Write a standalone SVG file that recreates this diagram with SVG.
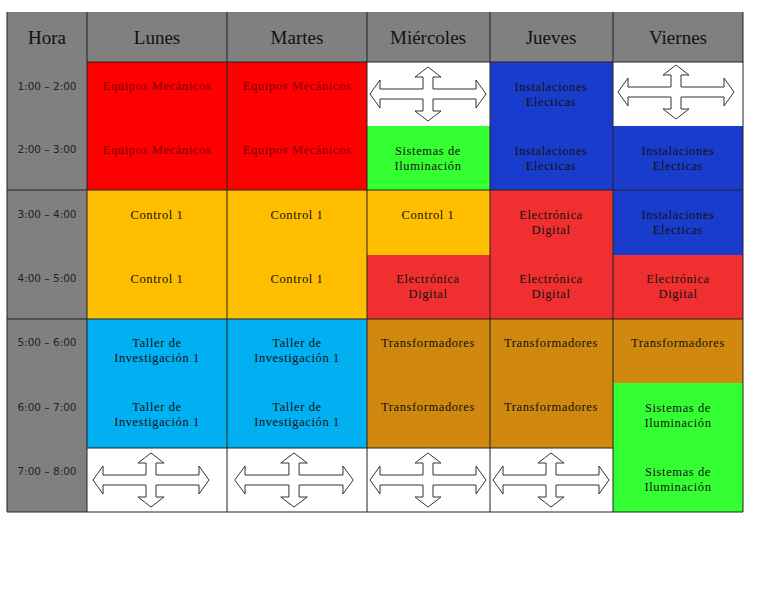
<svg xmlns="http://www.w3.org/2000/svg" width="768" height="594" viewBox="0 0 768 594">
<style>
.h{font-family:"Liberation Serif",serif;font-size:19px;fill:#111;text-anchor:middle}
.t{font-family:"DejaVu Sans",sans-serif;font-size:10.5px;fill:#222;text-anchor:middle}
.c{font-family:"Liberation Serif",serif;font-size:12.5px;fill:#111;text-anchor:middle;letter-spacing:0.6px}
.r{fill:#7a0000}
.ln{stroke:#222;stroke-width:1;fill:none}
.ar{fill:#fff;stroke:#333;stroke-width:1;vector-effect:non-scaling-stroke}
</style>
<defs>
<path id="arr" class="ar" d="M0,-27 L13,-17 L5,-17 L5,-5 L48,-5 L48,-14 L58,0 L48,14 L48,5 L5,5 L5,17 L13,17 L0,27 L-13,17 L-5,17 L-5,5 L-48,5 L-48,14 L-58,0 L-48,-14 L-48,-5 L-5,-5 L-5,-17 L-13,-17 Z"/>
</defs>
<rect width="768" height="594" fill="#fff"/>
<g id="header">
<rect x="7" y="12" width="736" height="50" fill="#808080"/>
<rect x="7" y="62" width="80" height="450" fill="#808080"/>
<text class="h" x="47" y="44">Hora</text>
<text class="h" x="157" y="44">Lunes</text>
<text class="h" x="297" y="44">Martes</text>
<text class="h" x="428" y="44">Miércoles</text>
<text class="h" x="551" y="44">Jueves</text>
<text class="h" x="678" y="44">Viernes</text>
<text class="t" x="47" y="90">1:00 – 2:00</text>
<text class="t" x="47" y="153">2:00 – 3:00</text>
<text class="t" x="47" y="218">3:00 – 4:00</text>
<text class="t" x="47" y="282">4:00 – 5:00</text>
<text class="t" x="47" y="346">5:00 – 6:00</text>
<text class="t" x="47" y="411">6:00 – 7:00</text>
<text class="t" x="47" y="475">7:00 – 8:00</text>
</g>
<g id="lunes">
<rect x="87" y="62" width="140" height="128" fill="#ff0000"/>
<text class="c r" x="157" y="90">Equipos Mecánicos</text>
<text class="c r" x="157" y="154">Equipos Mecánicos</text>
<rect x="87" y="190" width="140" height="129" fill="#ffbf00"/>
<text class="c" x="157" y="219">Control 1</text>
<text class="c" x="157" y="283">Control 1</text>
<rect x="87" y="319" width="140" height="129" fill="#00b0f0"/>
<text class="c" x="157" y="347">Taller de</text><text class="c" x="157" y="362">Investigación 1</text>
<text class="c" x="157" y="411">Taller de</text><text class="c" x="157" y="426">Investigación 1</text>
<use href="#arr" transform="translate(151,480) scale(1,1)"/>
</g>
<g id="martes">
<rect x="227" y="62" width="140" height="128" fill="#ff0000"/>
<text class="c r" x="297" y="90">Equipos Mecánicos</text>
<text class="c r" x="297" y="154">Equipos Mecánicos</text>
<rect x="227" y="190" width="140" height="129" fill="#ffbf00"/>
<text class="c" x="297" y="219">Control 1</text>
<text class="c" x="297" y="283">Control 1</text>
<rect x="227" y="319" width="140" height="129" fill="#00b0f0"/>
<text class="c" x="297" y="347">Taller de</text><text class="c" x="297" y="362">Investigación 1</text>
<text class="c" x="297" y="411">Taller de</text><text class="c" x="297" y="426">Investigación 1</text>
<use href="#arr" transform="translate(294,480) scale(1.02,1)"/>
</g>
<g id="miercoles">
<use href="#arr" transform="translate(428,94) scale(1,1)"/>
<rect x="367" y="126" width="123" height="64" fill="#33ff33"/>
<text class="c" x="428" y="155">Sistemas de</text><text class="c" x="428" y="170">Iluminación</text>
<rect x="367" y="190" width="123" height="65" fill="#ffbf00"/>
<text class="c" x="428" y="219">Control 1</text>
<rect x="367" y="255" width="123" height="64" fill="#f03030"/>
<text class="c" x="428" y="283">Electrónica</text><text class="c" x="428" y="298">Digital</text>
<rect x="367" y="319" width="123" height="129" fill="#d0880e"/>
<text class="c" x="428" y="347">Transformadores</text>
<text class="c" x="428" y="411">Transformadores</text>
<use href="#arr" transform="translate(428,480) scale(1,1)"/>
</g>
<g id="jueves">
<rect x="490" y="62" width="123" height="128" fill="#1a3ccc"/>
<text class="c" x="551" y="91">Instalaciones</text><text class="c" x="551" y="106">Electicas</text>
<text class="c" x="551" y="155">Instalaciones</text><text class="c" x="551" y="170">Electicas</text>
<rect x="490" y="190" width="123" height="129" fill="#f03030"/>
<text class="c" x="551" y="219">Electrónica</text><text class="c" x="551" y="234">Digital</text>
<text class="c" x="551" y="283">Electrónica</text><text class="c" x="551" y="298">Digital</text>
<rect x="490" y="319" width="123" height="129" fill="#d0880e"/>
<text class="c" x="551" y="347">Transformadores</text>
<text class="c" x="551" y="411">Transformadores</text>
<use href="#arr" transform="translate(551,480) scale(1,1)"/>
</g>
<g id="viernes">
<use href="#arr" transform="translate(676,92) scale(1,1)"/>
<rect x="613" y="126" width="130" height="129" fill="#1a3ccc"/>
<text class="c" x="678" y="155">Instalaciones</text><text class="c" x="678" y="170">Electicas</text>
<text class="c" x="678" y="219">Instalaciones</text><text class="c" x="678" y="234">Electicas</text>
<rect x="613" y="255" width="130" height="64" fill="#f03030"/>
<text class="c" x="678" y="283">Electrónica</text><text class="c" x="678" y="298">Digital</text>
<rect x="613" y="319" width="130" height="64" fill="#d0880e"/>
<text class="c" x="678" y="347">Transformadores</text>
<rect x="613" y="383" width="130" height="129" fill="#33ff33"/>
<text class="c" x="678" y="412">Sistemas de</text><text class="c" x="678" y="427">Iluminación</text>
<text class="c" x="678" y="476">Sistemas de</text><text class="c" x="678" y="491">Iluminación</text>
</g>
<g id="connectors">
<path class="ln" d="M87,12V512 M227,12V512 M367,12V512 M490,12V512 M613,12V512 M743,12V512 M7,12V512"/>
<path class="ln" d="M7,190H743 M7,319H743 M7,512H743 M87,448H613 M87,62H743"/>
</g>
</svg>
